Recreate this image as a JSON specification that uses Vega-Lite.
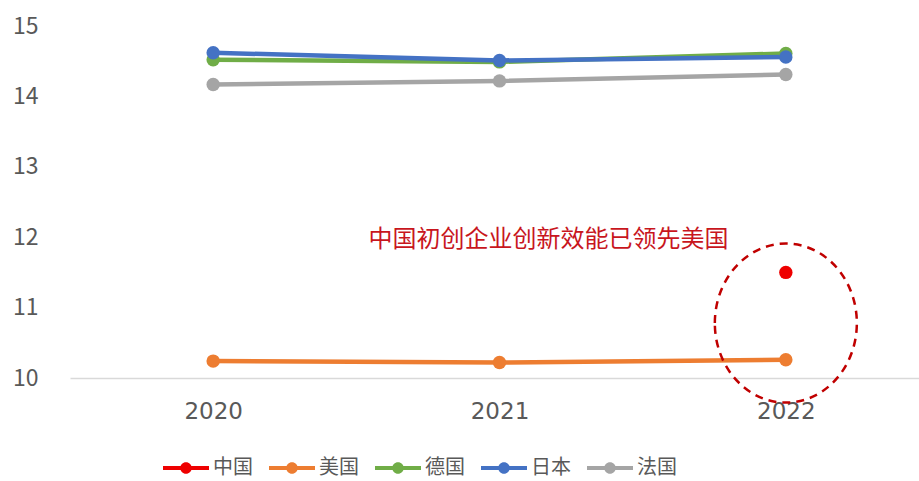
{
  "$schema": "https://vega.github.io/schema/vega-lite/v6.json",
  "width": 859,
  "height": 352,
  "autosize": "none",
  "padding": {"left": 70, "top": 26, "right": 0, "bottom": 103},
  "background": "white",
  "config": {"view": {"stroke": null}, "font": "Noto Sans CJK SC"},
  "datasets": {
    "series": [
      {"country": "中国", "year": "2022", "value": 11.5},
      {"country": "美国", "year": "2020", "value": 10.24},
      {"country": "美国", "year": "2021", "value": 10.22},
      {"country": "美国", "year": "2022", "value": 10.26},
      {"country": "德国", "year": "2020", "value": 14.52},
      {"country": "德国", "year": "2021", "value": 14.49},
      {"country": "德国", "year": "2022", "value": 14.61},
      {"country": "日本", "year": "2020", "value": 14.62},
      {"country": "日本", "year": "2021", "value": 14.51},
      {"country": "日本", "year": "2022", "value": 14.56},
      {"country": "法国", "year": "2020", "value": 14.17},
      {"country": "法国", "year": "2021", "value": 14.22},
      {"country": "法国", "year": "2022", "value": 14.31}
    ],
    "ellipse": [{"year": "2022", "value": 10.78}],
    "note": [{"year": "2021", "value": 11.96, "text": "中国初创企业创新效能已领先美国"}]
  },
  "encoding": {
    "x": {
      "field": "year", "type": "ordinal",
      "scale": {"type": "point", "padding": 0.5, "domain": ["2020", "2021", "2022"]},
      "axis": {"title": null, "labelAngle": 0, "domainColor": "#d9d9d9", "domainWidth": 1.5, "ticks": false, "grid": false, "labelFont": "DejaVu Sans", "labelFontSize": 23, "labelColor": "#595959", "labelPadding": 22}
    },
    "y": {
      "field": "value", "type": "quantitative",
      "scale": {"domain": [10, 15], "nice": false, "zero": false},
      "axis": {"title": null, "domain": false, "ticks": false, "grid": false, "values": [10, 11, 12, 13, 14, 15], "labelFontSize": 23, "labelColor": "#595959", "labelPadding": 32}
    }
  },
  "layer": [
    {
      "data": {"name": "series"},
      "mark": {"type": "line", "strokeWidth": 4.5},
      "encoding": {
        "color": {
          "field": "country", "type": "nominal",
          "scale": {"domain": ["中国", "美国", "德国", "日本", "法国"], "range": ["#ee0000", "#ed7d31", "#70ad47", "#4472c4", "#a5a5a5"]},
          "legend": {
            "orient": "none", "direction": "horizontal", "legendX": 93, "legendY": 419, "title": null,
            "symbolType": "M-1,-0.09L1,-0.09L1,0.09L-1,0.09Z M-0.25,0A0.25,0.25 0 1,1 0.25,0A0.25,0.25 0 1,1 -0.25,0Z",
            "symbolSize": 2116, "symbolStrokeWidth": 0,
            "labelFontSize": 20, "labelColor": "#595959", "labelOffset": 4, "columnPadding": 16,
            "encode": {"symbols": {"update": {"fill": {"scale": "color", "field": "value"}, "fillOpacity": {"value": 1}, "opacity": {"value": 1}}}}
          }
        }
      }
    },
    {
      "data": {"name": "series"},
      "mark": {"type": "point", "filled": true, "size": 180, "opacity": 1},
      "encoding": {"color": {"field": "country", "type": "nominal"}}
    },
    {
      "data": {"name": "ellipse"},
      "mark": {"type": "point", "shape": "M-1,0A1,1.12 0 1,1 1,0A1,1.12 0 1,1 -1,0Z", "size": 20164, "filled": false, "stroke": "#c00000", "strokeWidth": 2.5, "strokeDash": [8, 6], "opacity": 1}
    },
    {
      "data": {"name": "note"},
      "mark": {"type": "text", "fontSize": 24, "color": "#c8161d", "dx": 49, "align": "center", "baseline": "middle"},
      "encoding": {"text": {"field": "text"}}
    }
  ]
}
